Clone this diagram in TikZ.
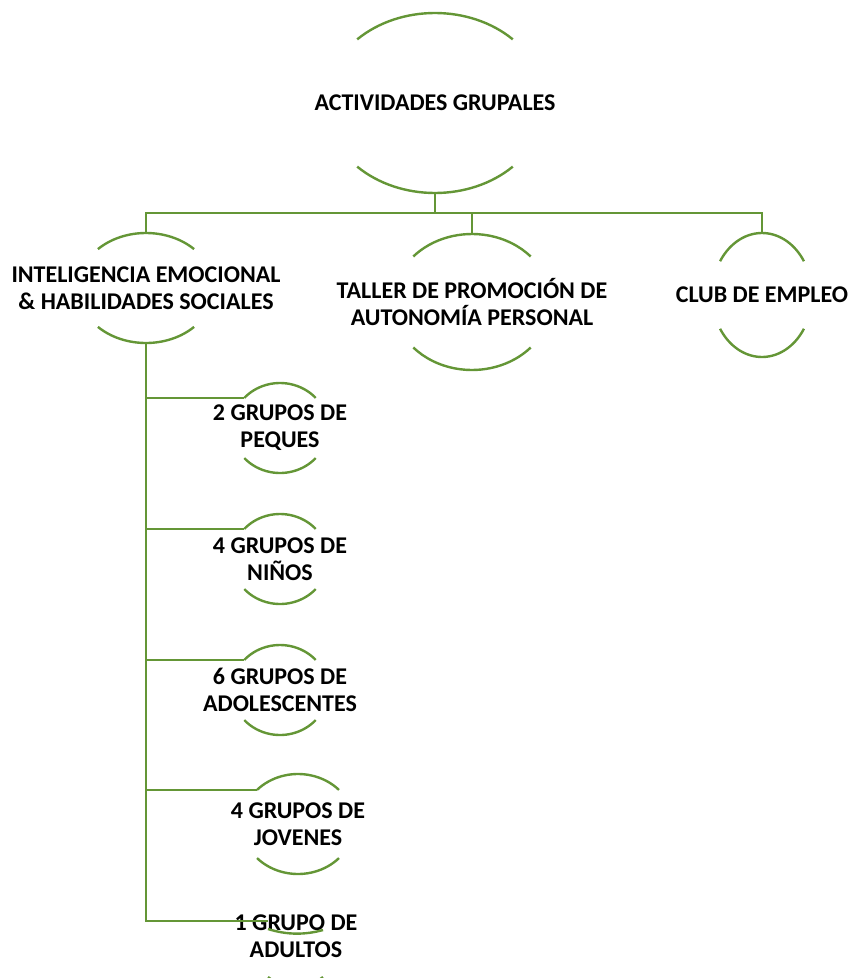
\documentclass[tikz,border=0pt]{standalone}
\usepackage{fontspec}
\setmainfont{Carlito}
\definecolor{leaf}{RGB}{100,150,54}
\tikzset{>=stealth}
\tikzset{
  grline/.style={draw=leaf, line width=1.8pt},
  label/.style={align=center, inner sep=0pt, font=\bfseries\fontsize{18}{20.25}\selectfont}
}
% two arcs of an oval round a node: name, x radius, y radius, angle
\newcommand{\ovalarcs}[4]{%
  \draw[grline] (#1.center) ++({180+#4}:#2 and #3) arc[start angle={180+#4}, end angle={360-#4}, x radius=#2, y radius=#3];
  \draw[grline] (#1.center) ++(#4:#2 and #3) arc[start angle=#4, end angle={180-#4}, x radius=#2, y radius=#3];
  \path (#1.center) ++(0,-#3) coordinate (#1-n);
  \path (#1.center) ++(0,#3) coordinate (#1-s);
  \path (#1.center) ++({180+#4}:#2 and #3) coordinate (#1-w);
}

\begin{document}
\begin{tikzpicture}[x=0.75pt, y=-0.75pt]
    \useasboundingbox (0,0) rectangle (850,978);
    % level one
    \node[label] (top) at (435,103) {ACTIVIDADES GRUPALES};
    \ovalarcs{top}{110}{90}{45}
    % level two
    \node[label] (emo) at (146,288) {INTELIGENCIA EMOCIONAL\\\& HABILIDADES SOCIALES};
    \ovalarcs{emo}{68}{55}{45}
    \node[label] (taller) at (472,302) {TALLER DE PROMOCIÓN DE\\AUTONOMÍA PERSONAL};
    \ovalarcs{taller}{79}{68}{42}
    \node[label] (club) at (762,295) {CLUB DE EMPLEO};
    \ovalarcs{club}{50}{62}{33}
    % groups
    \node[label] (peques) at (280,428) {2 GRUPOS DE\\PEQUES};
    \ovalarcs{peques}{48}{45}{42}
    \node[label] (ninos) at (280,559) {4 GRUPOS DE\\NIÑOS};
    \ovalarcs{ninos}{48}{45}{42}
    \node[label] (adol) at (280,690) {6 GRUPOS DE\\ADOLESCENTES};
    \ovalarcs{adol}{48}{45}{42}
    \node[label] (jov) at (298,824) {4 GRUPOS DE\\JOVENES};
    \ovalarcs{jov}{56}{50}{43}
    \node[label] (adul) at (296,936) {1 GRUPO DE\\ADULTOS};
    \coordinate (adul-w) at (268,921);
    \draw[grline] (268,929) .. controls (287,935) and (305,935) .. (323,930);
    \begin{scope}
      \clip (0,0) rectangle (850,978);
      \draw[grline] (268,977) .. controls (285,991) and (306,991) .. (323,977);
    \end{scope}
    % connectors
    \coordinate (bus) at (435,213);
    \draw[grline] (top-s) -- (bus);
    \draw[grline] (bus) -| (emo-n);
    \draw[grline] (bus) -| (taller-n);
    \draw[grline] (bus) -| (club-n);
    \draw[grline] (emo-s) |- (peques-w);
    \draw[grline] (emo-s) |- (ninos-w);
    \draw[grline] (emo-s) |- (adol-w);
    \draw[grline] (emo-s) |- (jov-w);
    \draw[grline] (emo-s) |- (adul-w);
\end{tikzpicture}
\end{document}
